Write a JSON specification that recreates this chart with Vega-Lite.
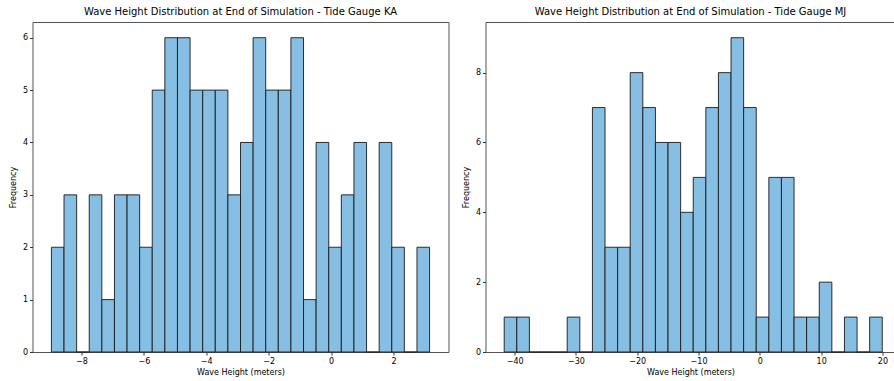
{
  "$schema": "https://vega.github.io/schema/vega-lite/v6.json",
  "padding": {"left": 8.5, "top": 6, "right": 0, "bottom": 0},
  "spacing": 12,
  "config": {
    "font": "DejaVu Sans",
    "view": {"stroke": "#555555", "strokeWidth": 1},
    "axis": {"domain": false, "grid": false, "labelFont": "DejaVu Sans", "labelFontSize": 8, "labelColor": "#000000", "titleFont": "DejaVu Sans", "titleFontSize": 8, "titleFontWeight": "normal", "titleColor": "#000000", "tickColor": "#333333", "tickSize": 3, "labelPadding": 2, "labelFlush": false},
    "title": {"font": "DejaVu Sans", "fontSize": 10, "fontWeight": "normal", "color": "#000000", "offset": 5}
  },
  "hconcat": [
    {
      "title": "Wave Height Distribution at End of Simulation - Tide Gauge KA",
      "width": 416,
      "height": 330,
      "data": {"values": [
        {"bin_start": -8.960, "bin_end": -8.556, "count": 2},
        {"bin_start": -8.556, "bin_end": -8.152, "count": 3},
        {"bin_start": -8.152, "bin_end": -7.749, "count": 0},
        {"bin_start": -7.749, "bin_end": -7.345, "count": 3},
        {"bin_start": -7.345, "bin_end": -6.941, "count": 1},
        {"bin_start": -6.941, "bin_end": -6.537, "count": 3},
        {"bin_start": -6.537, "bin_end": -6.133, "count": 3},
        {"bin_start": -6.133, "bin_end": -5.730, "count": 2},
        {"bin_start": -5.730, "bin_end": -5.326, "count": 5},
        {"bin_start": -5.326, "bin_end": -4.922, "count": 6},
        {"bin_start": -4.922, "bin_end": -4.518, "count": 6},
        {"bin_start": -4.518, "bin_end": -4.114, "count": 5},
        {"bin_start": -4.114, "bin_end": -3.711, "count": 5},
        {"bin_start": -3.711, "bin_end": -3.307, "count": 5},
        {"bin_start": -3.307, "bin_end": -2.903, "count": 3},
        {"bin_start": -2.903, "bin_end": -2.499, "count": 4},
        {"bin_start": -2.499, "bin_end": -2.095, "count": 6},
        {"bin_start": -2.095, "bin_end": -1.692, "count": 5},
        {"bin_start": -1.692, "bin_end": -1.288, "count": 5},
        {"bin_start": -1.288, "bin_end": -0.884, "count": 6},
        {"bin_start": -0.884, "bin_end": -0.480, "count": 1},
        {"bin_start": -0.480, "bin_end": -0.076, "count": 4},
        {"bin_start": -0.076, "bin_end": 0.327, "count": 2},
        {"bin_start": 0.327, "bin_end": 0.731, "count": 3},
        {"bin_start": 0.731, "bin_end": 1.135, "count": 4},
        {"bin_start": 1.135, "bin_end": 1.539, "count": 0},
        {"bin_start": 1.539, "bin_end": 1.943, "count": 4},
        {"bin_start": 1.943, "bin_end": 2.346, "count": 2},
        {"bin_start": 2.346, "bin_end": 2.750, "count": 0},
        {"bin_start": 2.750, "bin_end": 3.154, "count": 2}
      ]},
      "mark": {"type": "bar", "fill": "#86bfe3", "stroke": "#1a1a1a", "strokeWidth": 0.9},
      "encoding": {
        "x": {"field": "bin_start", "type": "quantitative", "scale": {"domain": [-9.566, 3.76], "nice": false, "zero": false}, "axis": {"values": [-8, -6, -4, -2, 0, 2], "title": "Wave Height (meters)", "titlePadding": 3}},
        "x2": {"field": "bin_end"},
        "y": {"field": "count", "type": "quantitative", "scale": {"domain": [0, 6.3], "nice": false}, "axis": {"values": [0, 1, 2, 3, 4, 5, 6], "title": "Frequency", "titlePadding": 5}},
        "y2": {"datum": 0}
      }
    },
    {
      "title": "Wave Height Distribution at End of Simulation - Tide Gauge MJ",
      "width": 410,
      "height": 330,
      "data": {"values": [
        {"bin_start": -41.700, "bin_end": -39.644, "count": 1},
        {"bin_start": -39.644, "bin_end": -37.589, "count": 1},
        {"bin_start": -37.589, "bin_end": -35.533, "count": 0},
        {"bin_start": -35.533, "bin_end": -33.477, "count": 0},
        {"bin_start": -33.477, "bin_end": -31.421, "count": 0},
        {"bin_start": -31.421, "bin_end": -29.366, "count": 1},
        {"bin_start": -29.366, "bin_end": -27.310, "count": 0},
        {"bin_start": -27.310, "bin_end": -25.254, "count": 7},
        {"bin_start": -25.254, "bin_end": -23.199, "count": 3},
        {"bin_start": -23.199, "bin_end": -21.143, "count": 3},
        {"bin_start": -21.143, "bin_end": -19.087, "count": 8},
        {"bin_start": -19.087, "bin_end": -17.032, "count": 7},
        {"bin_start": -17.032, "bin_end": -14.976, "count": 6},
        {"bin_start": -14.976, "bin_end": -12.920, "count": 6},
        {"bin_start": -12.920, "bin_end": -10.864, "count": 4},
        {"bin_start": -10.864, "bin_end": -8.809, "count": 5},
        {"bin_start": -8.809, "bin_end": -6.753, "count": 7},
        {"bin_start": -6.753, "bin_end": -4.697, "count": 8},
        {"bin_start": -4.697, "bin_end": -2.642, "count": 9},
        {"bin_start": -2.642, "bin_end": -0.586, "count": 7},
        {"bin_start": -0.586, "bin_end": 1.470, "count": 1},
        {"bin_start": 1.470, "bin_end": 3.525, "count": 5},
        {"bin_start": 3.525, "bin_end": 5.581, "count": 5},
        {"bin_start": 5.581, "bin_end": 7.637, "count": 1},
        {"bin_start": 7.637, "bin_end": 9.693, "count": 1},
        {"bin_start": 9.693, "bin_end": 11.748, "count": 2},
        {"bin_start": 11.748, "bin_end": 13.804, "count": 0},
        {"bin_start": 13.804, "bin_end": 15.860, "count": 1},
        {"bin_start": 15.860, "bin_end": 17.915, "count": 0},
        {"bin_start": 17.915, "bin_end": 19.971, "count": 1}
      ]},
      "mark": {"type": "bar", "fill": "#86bfe3", "stroke": "#1a1a1a", "strokeWidth": 0.9},
      "encoding": {
        "x": {"field": "bin_start", "type": "quantitative", "scale": {"domain": [-44.75, 22.13], "nice": false, "zero": false}, "axis": {"values": [-40, -30, -20, -10, 0, 10, 20], "title": "Wave Height (meters)", "titlePadding": 3}},
        "x2": {"field": "bin_end"},
        "y": {"field": "count", "type": "quantitative", "scale": {"domain": [0, 9.45], "nice": false}, "axis": {"values": [0, 2, 4, 6, 8], "title": "Frequency", "titlePadding": 5}},
        "y2": {"datum": 0}
      }
    }
  ]
}
